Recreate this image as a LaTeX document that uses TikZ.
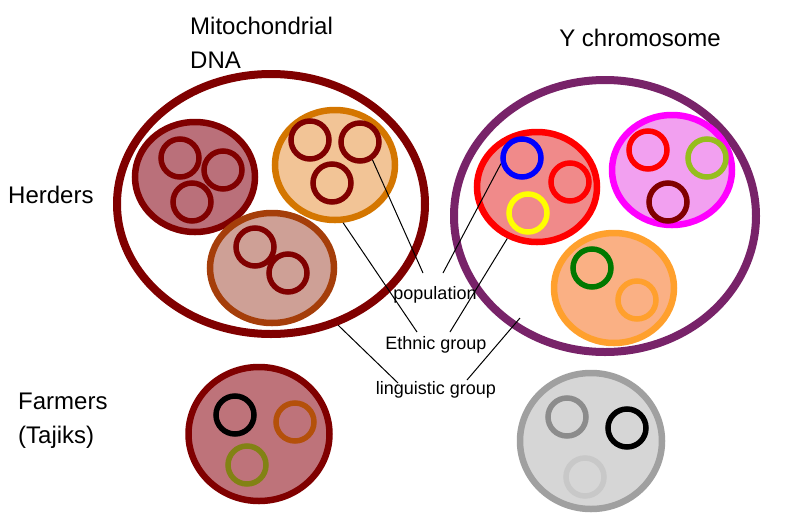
\documentclass[tikz,border=0pt]{standalone}
\usepackage{fontspec}
\setmainfont{Liberation Sans}
\usetikzlibrary{shapes.geometric}
\definecolor{HDarkRed}{RGB}{128,0,0}
\definecolor{HRose}{RGB}{186,112,122}
\definecolor{HOrange}{RGB}{212,118,0}
\definecolor{HPeach}{RGB}{242,196,150}
\definecolor{HBrown}{RGB}{165,62,10}
\definecolor{HTan}{RGB}{206,160,150}
\definecolor{YPurple}{RGB}{120,35,105}
\definecolor{YRed}{RGB}{255,0,0}
\definecolor{YBlue}{RGB}{0,0,255}
\definecolor{YYellow}{RGB}{255,255,0}
\definecolor{YMagenta}{RGB}{255,0,255}
\definecolor{YSalmon}{RGB}{240,138,138}
\definecolor{YPink}{RGB}{242,160,240}
\definecolor{YOrange}{RGB}{255,160,45}
\definecolor{YApricot}{RGB}{250,176,132}
\definecolor{YLime}{RGB}{150,190,30}
\definecolor{YGreen}{RGB}{0,120,0}
\definecolor{FRose}{RGB}{190,115,122}
\definecolor{FRust}{RGB}{180,80,10}
\definecolor{FOlive}{RGB}{130,130,20}
\definecolor{FGrey}{RGB}{160,160,160}
\definecolor{FSilver}{RGB}{214,214,214}
\definecolor{FMidGrey}{RGB}{140,140,140}
\definecolor{FPale}{RGB}{200,200,200}

\begin{document}
\begin{tikzpicture}[x=1pt,y=-1pt,
    pool/.style={ellipse,draw,line width=8pt,inner sep=0pt},
    grp/.style={ellipse,draw,line width=6.5pt,inner sep=0pt,minimum width=120pt,minimum height=110pt},
    hap/.style={circle,draw,line width=5.5pt,inner sep=0pt,minimum size=38pt},
    ttl/.style={font=\fontsize{24}{34}\selectfont,align=left,inner sep=0pt},
    lbl/.style={font=\fontsize{18}{20}\selectfont,inner sep=0pt},
    pointer/.style={line width=1pt}]
      \useasboundingbox (0,0) rectangle (785,528);
      % titles
      \node[ttl,anchor=north west] (mtdna) at (190,17) {Mitochondrial\\DNA};
      \node[ttl] (ychr) at (640,38) {Y chromosome};
      \node[ttl,anchor=west] (herd) at (8,195) {Herders};
      \node[ttl,anchor=west] (farm) at (18,421) {Farmers\\(Tajiks)};
      % herders, mtDNA
      \node[pool,draw=HDarkRed,minimum width=308pt,minimum height=260pt] (mtpool) at (271,204) {};
      \node[grp,draw=HDarkRed,fill=HRose] (mtA) at (195,177) {};
      \node[hap,draw=HDarkRed] (mtA1) at (180,158) {};
      \node[hap,draw=HDarkRed] (mtA2) at (223,170) {};
      \node[hap,draw=HDarkRed] (mtA3) at (192,202) {};
      \node[grp,draw=HOrange,fill=HPeach] (mtB) at (335,165) {};
      \node[hap,draw=HDarkRed] (mtB1) at (310,140) {};
      \node[hap,draw=HDarkRed] (mtB2) at (360,142) {};
      \node[hap,draw=HDarkRed] (mtB3) at (332,183) {};
      \node[grp,draw=HBrown,fill=HTan,minimum width=124pt] (mtC) at (272,268) {};
      \node[hap,draw=HDarkRed] (mtC1) at (255,247) {};
      \node[hap,draw=HDarkRed] (mtC2) at (288,273) {};
      % herders, Y chromosome
      \node[pool,draw=YPurple,minimum width=302pt,minimum height=272pt] (ypool) at (605,216) {};
      \node[grp,draw=YRed,fill=YSalmon] (yD) at (537,187) {};
      \node[hap,draw=YBlue] (yD1) at (522,158) {};
      \node[hap,draw=YRed] (yD2) at (570,182) {};
      \node[hap,draw=YYellow] (yD3) at (528,213) {};
      \node[grp,draw=YMagenta,fill=YPink] (yE) at (672,170) {};
      \node[hap,draw=YRed] (yE1) at (648,150) {};
      \node[hap,draw=YLime] (yE2) at (707,158) {};
      \node[hap,draw=HDarkRed] (yE3) at (668,202) {};
      \node[grp,draw=YOrange,fill=YApricot] (yF) at (614,288) {};
      \node[hap,draw=YGreen] (yF1) at (592,268) {};
      \node[hap,draw=YOrange] (yF2) at (637,300) {};
      % farmers
      \node[grp,draw=HDarkRed,fill=FRose,minimum width=141pt,minimum height=134pt] (fmt) at (259,434) {};
      \node[hap,draw=black] (fmt1) at (235,415) {};
      \node[hap,draw=FRust] (fmt2) at (295,422) {};
      \node[hap,draw=FOlive] (fmt3) at (247,465) {};
      \node[grp,draw=FGrey,fill=FSilver,minimum width=142pt,minimum height=136pt] (fy) at (591,441) {};
      \node[hap,draw=FMidGrey] (fy1) at (567,417) {};
      \node[hap,draw=black] (fy2) at (627,428) {};
      \node[hap,draw=FPale] (fy3) at (585,477) {};
      % labels
      \node[lbl] (pop) at (435,295) {population};
      \node[lbl] (eth) at (436,345) {Ethnic group};
      \node[lbl] (ling) at (436,390) {linguistic group};
      \coordinate (popL) at (423,273);
      \coordinate (popR) at (443,273);
      \coordinate (ethL) at (417,332);
      \coordinate (ethR) at (450,332);
      \coordinate (lingL) at (398,383);
      \coordinate (lingR) at (467,380);
      \coordinate (yinside) at (520,318);
      \draw[pointer] (mtB2.-55) -- (popL);
      \draw[pointer] (yD1.195) -- (popR);
      \draw[pointer] (mtB.-82) -- (ethL);
      \draw[pointer] (yD.240) -- (ethR);
      \draw[pointer] (mtpool.-61) -- (lingL);
      \draw[pointer] (yinside) -- (lingR);
    \end{tikzpicture}
\end{document}
